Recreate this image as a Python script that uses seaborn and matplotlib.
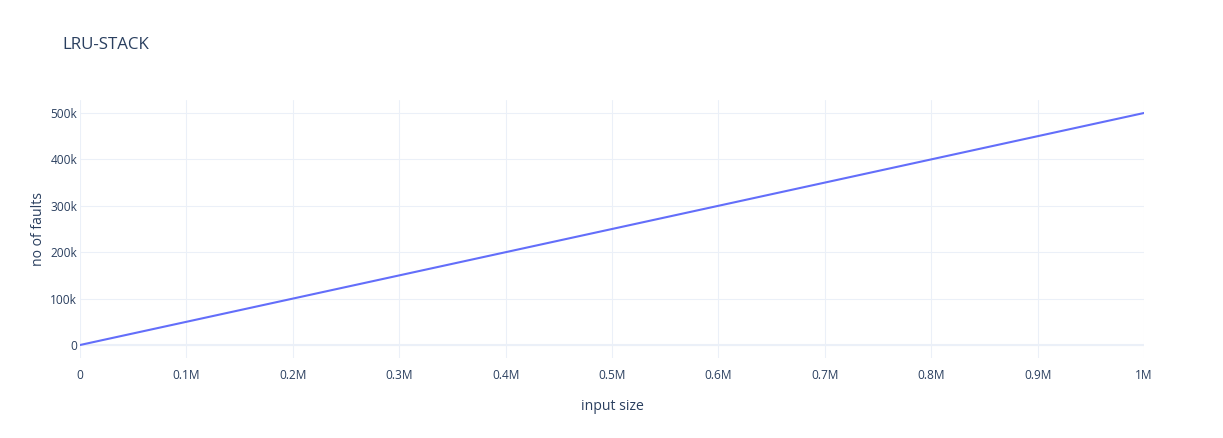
import matplotlib
matplotlib.use("Agg")
import matplotlib.pyplot as plt
import matplotlib.ticker as mticker
import seaborn as sns
import pandas as pd

# Data
input_size = [0, 100000, 200000, 300000, 400000, 500000, 600000, 700000, 800000, 900000, 1000000]
faults = [0, 50000, 100000, 150000, 200000, 250000, 300000, 350000, 400000, 450000, 500000]

df = pd.DataFrame({"input size": input_size, "no of faults": faults})

sns.set_theme(style="white")
plt.rcParams['font.family'] = ['Open Sans', 'DejaVu Sans']

W, H = 1223, 438
fig = plt.figure(figsize=(W / 100, H / 100), dpi=100)
ax = fig.add_axes([80 / W, (H - 358) / H, 1064 / W, 258 / H])

grid_col = "#EBF0F8"
text_col = "#2a3f5f"

sns.lineplot(data=df, x="input size", y="no of faults", ax=ax,
             color="#636efa", linewidth=1.5, zorder=3)

ax.set_xlim(0, 1000000)
ax.set_ylim(-28000, 528000)

ax.xaxis.set_major_locator(mticker.MultipleLocator(100000))
ax.yaxis.set_major_locator(mticker.MultipleLocator(100000))


def fmt_x(v, pos):
    if v == 0:
        return "0"
    if v >= 1000000:
        return "1M"
    return f"{v / 1e6:.1f}M"


def fmt_y(v, pos):
    if v == 0:
        return "0"
    return f"{int(v / 1000)}k"


ax.xaxis.set_major_formatter(mticker.FuncFormatter(fmt_x))
ax.yaxis.set_major_formatter(mticker.FuncFormatter(fmt_y))

ax.grid(True, color=grid_col, linewidth=0.75, zorder=0)
ax.axhline(0, color=grid_col, linewidth=1.5, zorder=1)
for s in ax.spines.values():
    s.set_visible(False)

ax.tick_params(axis="both", length=0, labelsize=8.6, colors=text_col)
ax.tick_params(axis="x", pad=8)
ax.tick_params(axis="y", pad=2)

ax.set_xlabel("input size", fontsize=10.1, color=text_col, labelpad=12)
ax.set_ylabel("no of faults", fontsize=10.1, color=text_col, labelpad=3)

fig.text(62 / W, 1 - 45 / H, "LRU-STACK", fontsize=12.2, color=text_col,
         ha="left", va="center")

fig.savefig("out.png", dpi=100, facecolor="white")
